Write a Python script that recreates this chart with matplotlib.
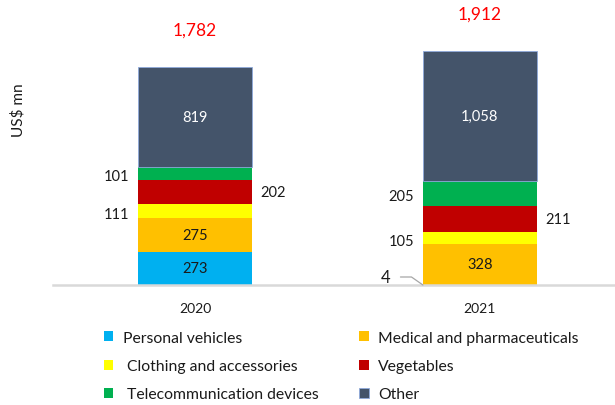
import matplotlib
matplotlib.use("Agg")
import matplotlib.pyplot as plt
import numpy as np

plt.rcParams['font.family'] = ['Lato', 'DejaVu Sans']

years = ['2020', '2021']
categories = ['Personal vehicles', 'Medical and pharmaceuticals', 'Clothing and accessories',
              'Vegetables', 'Telecommunication devices', 'Other']
personal_vehicles = [273, 4]
medical = [275, 328]
clothing = [111, 105]
vegetables = [202, 211]
telecom = [101, 205]
other = [819, 1058]
totals = [1782, 1912]

series = [personal_vehicles, medical, clothing, vegetables, telecom, other]
colors = ['#00B0F0', '#FFC000', '#FFFF00', '#C00000', '#00B050', '#44546A']

# label placement per (series, year): 'in', 'left', 'right', 'leader'
placement = [
    ['in', 'leader'],
    ['in', 'in'],
    ['left', 'left'],
    ['right', 'right'],
    ['left', 'left'],
    ['in', 'in'],
]

W, H = 615, 406
fig = plt.figure(figsize=(W / 100, H / 100), dpi=100)
ax = fig.add_axes([53 / W, 1 - 286 / H, 1 - 53 / W, 286 / H])

x = np.arange(len(years))
width = 0.4
bottom = np.zeros(len(years))
handles = []
for s, vals in enumerate(series):
    vals = np.array(vals, dtype=float)
    ec = '#8faadc' if s == 5 else 'none'
    b = ax.bar(x, vals, width, bottom=bottom, color=colors[s], edgecolor=ec,
               linewidth=0.6 if s == 5 else 0, label=categories[s], zorder=2)
    handles.append(b)
    for i in range(len(years)):
        v = vals[i]
        yc = bottom[i] + v / 2
        mode = placement[s][i]
        txt = f"{int(v):,}"
        if mode == 'in':
            ax.text(x[i], yc, txt, ha='center', va='center', fontsize=10.5,
                    color='white' if s == 5 else '#1a1a1a', zorder=3)
        elif mode == 'left':
            ax.annotate(txt, (x[i] - width / 2, yc), xytext=(-9, -3),
                        textcoords='offset pixels', ha='right', va='center',
                        fontsize=10.5, color='#1a1a1a')
        elif mode == 'right':
            ax.annotate(txt, (x[i] + width / 2, yc), xytext=(8, 0),
                        textcoords='offset pixels', ha='left', va='center',
                        fontsize=10.5, color='#1a1a1a')
        elif mode == 'leader':
            ax.annotate(txt, (x[i] - width / 2, bottom[i]), xytext=(-37, 8),
                        textcoords='offset pixels', ha='center', va='center',
                        fontsize=12, color='#1a1a1a',
                        arrowprops=dict(arrowstyle='-', color='#a6a6a6', lw=0.9,
                                        relpos=(1, 0.5), shrinkA=5, shrinkB=0,
                                        connectionstyle='angle,angleA=0,angleB=145,rad=0'))
    bottom += vals

for i in range(len(years)):
    ax.annotate(f"{totals[i]:,}", (x[i], bottom[i]), xytext=(0, 37),
                textcoords='offset pixels', ha='center', va='center',
                fontsize=12.5, color='#FF0000')

ax.set_xlim(-0.498, 1.474)
ax.set_ylim(0, 286 / 0.1224)
ax.set_xticks(x)
ax.set_xticklabels(years, fontsize=10, color='#1a1a1a')
ax.tick_params(axis='x', length=0, pad=12)
ax.set_yticks([])
for sp in ['top', 'right', 'left']:
    ax.spines[sp].set_visible(False)
ax.spines['bottom'].set_color('#d9d9d9')
ax.spines['bottom'].set_linewidth(1.8)
ax.patch.set_alpha(0)

fig.text(18 / W, 1 - 110 / H, 'US$ mn', rotation=90, ha='center', va='center',
         fontsize=11, color='#1a1a1a')

legend_labels = ['Personal vehicles', ' Clothing and accessories', ' Telecommunication devices',
                 'Medical and pharmaceuticals', 'Vegetables', 'Other']
order = [0, 2, 4, 1, 3, 5]
leg = fig.legend([handles[k] for k in order], legend_labels,
                 ncol=2, loc='upper left', bbox_to_anchor=(104 / W, 1 - 332 / H),
                 frameon=False, fontsize=11.3, handlelength=0.6, handleheight=0.6,
                 handletextpad=0.6, labelspacing=0.9, columnspacing=2.6,
                 borderaxespad=0, borderpad=0)
for t in leg.get_texts():
    t.set_color('#1a1a1a')

fig.savefig('out.png', dpi=100)
